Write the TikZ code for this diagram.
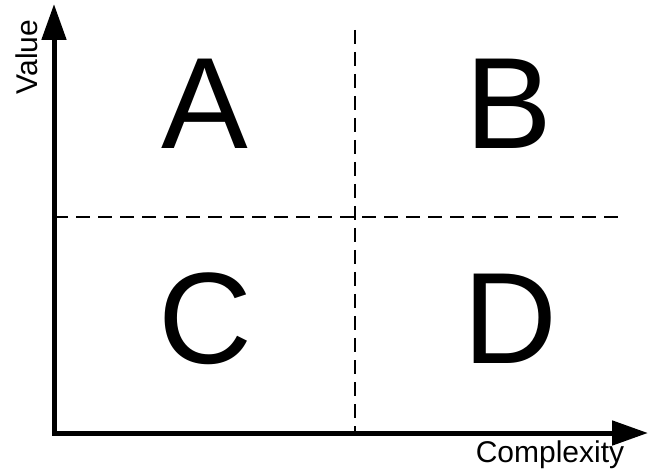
\documentclass[tikz,border=0pt]{standalone}
\usepackage{fontspec}
\setmainfont{Liberation Sans}
\usetikzlibrary{arrows.meta}
\tikzset{
  axis/.style={line width=5pt, line join=miter, {Triangle[width=24pt,length=36pt]}-{Triangle[width=24pt,length=36pt]}},
  divider/.style={line width=1.5pt, dash pattern=on 14pt off 8pt},
  quadrant/.style={anchor=base, inner sep=0pt, font=\fontsize{130}{130}\selectfont},
  axislabel/.style={inner sep=0pt, font=\fontsize{30}{30}\selectfont}
}
\begin{document}
\begin{tikzpicture}[x=1pt,y=-1pt]
  \useasboundingbox (0,0) rectangle (648,470);
  \coordinate (top) at (54,4);
  \coordinate (origin) at (54,433);
  \coordinate (right) at (648,433);
  % axes
  \draw[axis] (top) -- (origin) -- (right);
  % quadrant dividers
  \coordinate (vtop) at (355,30);
  \coordinate (vbot) at (355,433);
  \coordinate (hleft) at (54,217);
  \coordinate (hright) at (622,217);
  \draw[divider] (vtop) -- (vbot);
  \draw[divider] (hleft) -- (hright);
  % quadrant letters
  \node[quadrant] (qa) at (205,149) {A};
  \node[quadrant] (qb) at (509,149) {B};
  \node[quadrant] (qc) at (205,363) {C};
  \node[quadrant] (qd) at (510,363) {D};
  % axis labels
  \node[axislabel, rotate=90, anchor=base] (value) at (37,57) {Value};
  \node[axislabel, anchor=base] (complexity) at (550,462) {Complexity};
\end{tikzpicture}
\end{document}
